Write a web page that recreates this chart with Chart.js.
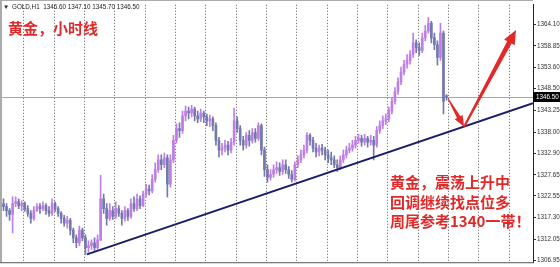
<!DOCTYPE html>
<html>
<head>
<meta charset="utf-8">
<script src="https://cdn.jsdelivr.net/npm/chart.js@4.4.1/dist/chart.umd.min.js"></script>
<style>
  html, body { margin: 0; padding: 0; background: #fff; }
  #wrap { width: 560px; height: 267px; }
</style>
</head>
<body>
<div id="wrap"><canvas id="gold-chart" width="560" height="267"></canvas></div>
<script>
// GOLD H1 candles
var opens = [
    1320.65, 1319.94, 1318.99, 1318.05, 1320.65, 1321.12, 1320.18, 1320.65, 1319.47, 1318.29,
    1317.10, 1318.99, 1319.94, 1319.47, 1320.18, 1318.99, 1318.29, 1320.65, 1319.47, 1318.29,
    1317.10, 1315.92, 1316.63, 1314.27, 1312.38, 1311.20, 1314.27, 1312.38, 1310.02, 1310.49,
    1311.20, 1310.02, 1311.91, 1321.83, 1319.47, 1317.10, 1318.99, 1317.58, 1319.47, 1318.29,
    1317.10, 1318.99, 1317.58, 1320.65, 1319.47, 1321.83, 1320.18, 1323.01, 1324.19, 1323.72,
    1326.55, 1328.91, 1331.27, 1330.09, 1331.75, 1325.37, 1331.27, 1336.00, 1338.83, 1338.36,
    1341.90, 1343.08, 1342.61, 1343.56, 1341.90, 1341.19, 1342.61, 1341.67, 1340.72, 1341.19,
    1339.54, 1336.00, 1333.64, 1334.11, 1334.82, 1333.64, 1335.53, 1340.72, 1338.83, 1336.00,
    1334.82, 1337.18, 1336.00, 1337.89, 1336.47, 1339.54, 1333.64, 1328.91, 1327.02, 1327.73,
    1328.91, 1329.39, 1328.44, 1330.09, 1328.91, 1327.73, 1326.55, 1330.09, 1331.27, 1332.46,
    1333.64, 1337.18, 1336.00, 1334.11, 1333.16, 1334.11, 1333.64, 1332.46, 1331.75, 1331.27,
    1330.09, 1329.39, 1331.27, 1332.46, 1333.64, 1334.11, 1334.82, 1336.00, 1336.47, 1335.53,
    1336.47, 1335.53, 1336.00, 1334.82, 1338.36, 1339.54, 1340.72, 1341.19, 1343.08, 1345.44,
    1347.81, 1350.17, 1352.53, 1354.42, 1355.36, 1356.78, 1359.61, 1358.43, 1357.72, 1360.79,
    1362.45, 1364.34, 1360.79, 1359.14, 1356.07, 1361.97, 1346.60
];
var highs = [
    1321.83, 1320.65, 1319.47, 1322.30, 1322.30, 1321.83, 1321.36, 1321.12, 1320.18, 1318.99,
    1319.94, 1320.65, 1320.65, 1321.12, 1320.65, 1319.94, 1321.83, 1321.12, 1319.94, 1318.76,
    1317.81, 1317.58, 1317.10, 1314.74, 1313.09, 1315.22, 1314.74, 1313.09, 1311.67, 1311.91,
    1312.38, 1313.09, 1327.50, 1323.01, 1320.65, 1320.65, 1319.94, 1321.12, 1320.18, 1318.99,
    1319.94, 1319.47, 1321.83, 1322.30, 1323.01, 1322.54, 1323.72, 1325.37, 1325.13, 1327.73,
    1330.57, 1332.46, 1332.46, 1332.93, 1332.46, 1332.46, 1337.18, 1340.01, 1340.25, 1343.08,
    1344.26, 1344.03, 1344.50, 1344.03, 1343.08, 1343.56, 1343.08, 1342.37, 1342.14, 1341.67,
    1340.25, 1336.71, 1335.29, 1336.00, 1335.76, 1336.47, 1343.79, 1341.67, 1339.54, 1336.94,
    1337.89, 1338.36, 1338.83, 1338.83, 1340.25, 1340.01, 1334.34, 1330.09, 1328.91, 1330.09,
    1330.80, 1330.57, 1331.27, 1331.27, 1329.62, 1328.68, 1330.80, 1332.22, 1333.64, 1334.82,
    1337.89, 1337.65, 1336.71, 1335.29, 1334.82, 1335.05, 1334.34, 1333.64, 1333.16, 1332.22,
    1331.27, 1332.22, 1333.64, 1334.58, 1335.29, 1336.00, 1336.94, 1337.42, 1337.18, 1337.42,
    1336.94, 1337.18, 1336.94, 1339.30, 1340.72, 1341.90, 1342.37, 1344.03, 1346.39, 1348.75,
    1351.11, 1353.71, 1355.36, 1356.78, 1357.72, 1361.97, 1360.32, 1359.61, 1361.97, 1363.86,
    1365.75, 1364.81, 1361.97, 1360.09, 1364.34, 1362.45, 1347.10
];
var lows = [
    1318.99, 1317.58, 1316.63, 1313.56, 1319.94, 1319.47, 1318.99, 1318.76, 1317.58, 1315.92,
    1316.63, 1318.76, 1318.29, 1318.99, 1318.05, 1317.58, 1317.81, 1318.76, 1317.58, 1315.92,
    1315.22, 1314.74, 1313.09, 1311.20, 1310.02, 1310.49, 1311.67, 1308.37, 1308.84, 1309.55,
    1309.31, 1309.55, 1311.67, 1318.29, 1315.45, 1316.63, 1316.87, 1317.10, 1317.58, 1315.45,
    1316.40, 1316.63, 1317.10, 1318.76, 1318.99, 1319.47, 1319.94, 1322.30, 1322.77, 1323.25,
    1325.84, 1328.20, 1328.91, 1329.39, 1322.30, 1324.66, 1330.57, 1335.29, 1336.71, 1337.65,
    1340.72, 1341.19, 1341.67, 1340.72, 1340.25, 1340.49, 1340.25, 1339.54, 1339.30, 1338.36,
    1334.82, 1331.98, 1332.46, 1333.16, 1332.46, 1332.93, 1334.82, 1337.89, 1334.82, 1333.64,
    1334.11, 1334.58, 1335.29, 1335.53, 1336.00, 1332.46, 1327.26, 1325.84, 1326.32, 1327.02,
    1327.97, 1327.50, 1327.73, 1327.97, 1326.79, 1325.84, 1326.08, 1329.39, 1330.57, 1331.75,
    1332.93, 1334.82, 1333.16, 1331.98, 1332.22, 1332.46, 1331.27, 1330.57, 1330.09, 1329.39,
    1328.44, 1328.91, 1330.57, 1331.75, 1332.93, 1333.40, 1334.11, 1335.29, 1334.58, 1334.82,
    1334.34, 1334.82, 1331.27, 1334.34, 1337.65, 1338.83, 1339.78, 1340.49, 1342.37, 1344.74,
    1347.10, 1349.46, 1351.82, 1353.47, 1354.42, 1356.07, 1357.25, 1356.54, 1357.25, 1360.09,
    1361.97, 1359.61, 1357.96, 1354.18, 1355.36, 1342.37, 1345.70
];
var closes = [
    1319.94, 1318.99, 1318.05, 1320.65, 1321.12, 1320.18, 1320.65, 1319.47, 1318.29, 1317.10,
    1318.99, 1319.94, 1319.47, 1320.18, 1318.99, 1318.29, 1320.65, 1319.47, 1318.29, 1317.10,
    1315.92, 1316.63, 1314.27, 1312.38, 1311.20, 1314.27, 1312.38, 1310.02, 1310.49, 1311.20,
    1310.02, 1311.91, 1321.83, 1319.47, 1317.10, 1318.99, 1317.58, 1319.47, 1318.29, 1317.10,
    1318.99, 1317.58, 1320.65, 1319.47, 1321.83, 1320.18, 1323.01, 1324.19, 1323.72, 1326.55,
    1328.91, 1331.27, 1330.09, 1331.75, 1325.37, 1331.27, 1336.00, 1338.83, 1338.36, 1341.90,
    1343.08, 1342.61, 1343.56, 1341.90, 1341.19, 1342.61, 1341.67, 1340.72, 1341.19, 1339.54,
    1336.00, 1333.64, 1334.11, 1334.82, 1333.64, 1335.53, 1340.72, 1338.83, 1336.00, 1334.82,
    1337.18, 1336.00, 1337.89, 1336.47, 1339.54, 1333.64, 1328.91, 1327.02, 1327.73, 1328.91,
    1329.39, 1328.44, 1330.09, 1328.91, 1327.73, 1326.55, 1330.09, 1331.27, 1332.46, 1333.64,
    1337.18, 1336.00, 1334.11, 1333.16, 1334.11, 1333.64, 1332.46, 1331.75, 1331.27, 1330.09,
    1329.39, 1331.27, 1332.46, 1333.64, 1334.11, 1334.82, 1336.00, 1336.47, 1335.53, 1336.47,
    1335.53, 1336.00, 1334.82, 1338.36, 1339.54, 1340.72, 1341.19, 1343.08, 1345.44, 1347.81,
    1350.17, 1352.53, 1354.42, 1355.36, 1356.78, 1359.61, 1358.43, 1357.72, 1360.79, 1362.45,
    1364.34, 1360.79, 1359.14, 1356.07, 1361.97, 1345.44, 1346.50
];

// price axis labels as printed on the right
var yTicks = [1364.10, 1358.85, 1353.60, 1348.50, 1343.25, 1338.00, 1332.90, 1327.65, 1322.55, 1317.30, 1312.05, 1306.95];
var yMin = 1306.48;
var yMax = 1368.82;
// bar slots on the time axis (chart is shifted, empty room on the right)
var xSlots = 175;
var gridX = [7, 17, 27, 37, 47, 57, 67, 77, 87, 97, 107, 117, 127, 137, 147, 157, 167];

// drawn objects, in [bar, price]
var trendLine = [[28, 1308.37], [175, 1344.97]];
var arrowDown = [[147.0, 1346.15], [152.3, 1339.30]];
var arrowUp = [[152.3, 1339.30], [169.4, 1362.70]];

var titleText = "黄金，小时线";
var noteLines = ["黄金，震荡上升中", "回调继续找点位多", "周尾参考1340一带！"];

var BULL = "#bf7ee6";
var BEAR = "#7479ad";
var RED = "#e02a2a";
var SMALL_FONT = "6.3px 'Liberation Sans'";

var wickData = [];
var bodyData = [];
var barColors = [];
for (var i = 0; i < closes.length; i++) {
    wickData.push({x: i + 0.5, y: [lows[i], highs[i]]});
    bodyData.push({x: i + 0.5, y: [opens[i], closes[i]]});
    barColors.push(closes[i] >= opens[i] ? BULL : BEAR);
}
var last = closes.length - 1;
var lastPrice = closes[last];

function drawArrow(ctx, x0, y0, x1, y1, w0, w1, headLen, headW) {
    var dx = x1 - x0, dy = y1 - y0;
    var len = Math.sqrt(dx * dx + dy * dy);
    var ux = dx / len, uy = dy / len;
    var nx = -uy, ny = ux;
    var bx = x1 - ux * headLen, by = y1 - uy * headLen;
    ctx.beginPath();
    ctx.moveTo(x0 + nx * w0 / 2, y0 + ny * w0 / 2);
    ctx.lineTo(bx + nx * w1 / 2, by + ny * w1 / 2);
    ctx.lineTo(bx + nx * headW / 2, by + ny * headW / 2);
    ctx.lineTo(x1, y1);
    ctx.lineTo(bx - nx * headW / 2, by - ny * headW / 2);
    ctx.lineTo(bx - nx * w1 / 2, by - ny * w1 / 2);
    ctx.lineTo(x0 - nx * w0 / 2, y0 - ny * w0 / 2);
    ctx.closePath();
    ctx.fill();
}

var overlay = {
    id: "overlay",
    beforeDraw: function (chart) {
        var ctx = chart.ctx;
        ctx.save();
        ctx.fillStyle = "#fff";
        ctx.fillRect(0, 0, chart.width, chart.height);
        ctx.restore();
    },
    beforeDatasetsDraw: function (chart) {
        var ctx = chart.ctx, a = chart.chartArea;
        var xs = chart.scales.x, ys = chart.scales.y;
        ctx.save();
        // dotted vertical grid
        ctx.strokeStyle = "#5a5a5a";
        ctx.lineWidth = 1;
        ctx.setLineDash([1, 2]);
        for (var k = 0; k < gridX.length; k++) {
            var gx = Math.round(xs.getPixelForValue(gridX[k])) + 0.5;
            ctx.beginPath();
            ctx.moveTo(gx, a.top);
            ctx.lineTo(gx, a.bottom);
            ctx.stroke();
        }
        ctx.setLineDash([]);
        // bid line
        var py = Math.round(ys.getPixelForValue(lastPrice)) + 0.5;
        ctx.strokeStyle = "#a6a6a6";
        ctx.beginPath();
        ctx.moveTo(a.left, py);
        ctx.lineTo(a.right, py);
        ctx.stroke();
        ctx.restore();
    },
    afterDraw: function (chart) {
        var ctx = chart.ctx, a = chart.chartArea;
        var xs = chart.scales.x, ys = chart.scales.y;
        function px(p) { return [xs.getPixelForValue(p[0]), ys.getPixelForValue(p[1])]; }
        ctx.save();

        // frame
        ctx.fillStyle = "#ababab";
        ctx.fillRect(0, 0, 2, a.bottom);
        ctx.fillRect(0, 0, a.right, 1);
        ctx.fillStyle = "#555";
        ctx.fillRect(0, a.bottom, a.right + 1, 1);

        // trend line
        var t0 = px(trendLine[0]), t1 = px(trendLine[1]);
        ctx.beginPath();
        ctx.rect(a.left, a.top, a.right - a.left, a.bottom - a.top);
        ctx.clip();
        ctx.strokeStyle = "#1c1c6b";
        ctx.lineWidth = 2;
        ctx.beginPath();
        ctx.moveTo(t0[0], t0[1]);
        ctx.lineTo(t1[0], t1[1]);
        ctx.stroke();

        // arrows
        ctx.fillStyle = RED;
        var d0 = px(arrowDown[0]), d1 = px(arrowDown[1]);
        drawArrow(ctx, d0[0], d0[1], d1[0], d1[1], 1, 4, 11, 9);
        var u0 = px(arrowUp[0]), u1 = px(arrowUp[1]);
        drawArrow(ctx, u0[0], u0[1], u1[0], u1[1], 2, 5, 14, 12);
        ctx.restore();

        ctx.save();
        // current price tag
        var py = Math.round(ys.getPixelForValue(lastPrice));
        ctx.fillStyle = "#000";
        ctx.fillRect(a.right, py - 5, chart.width - a.right, 10);
        ctx.fillStyle = "#fff";
        ctx.font = SMALL_FONT;
        ctx.textBaseline = "middle";
        ctx.textAlign = "left";
        ctx.fillText(lastPrice.toFixed(2), a.right + 3, py + 0.5);

        // header line
        ctx.fillStyle = "#222";
        ctx.textBaseline = "alphabetic";
        ctx.fillText("\u25BC", 3, 9);
        var ohlc = [opens[last], highs[last], lows[last], closes[last]].map(function (v) { return v.toFixed(2); });
        ctx.fillText("GOLD,H1  " + ohlc.join(" "), 12, 9);

        // red notes
        ctx.fillStyle = RED;
        ctx.font = "bold 15px 'Noto Sans CJK SC'";
        ctx.fillText(titleText, 8, 34);
        var baseY = [188, 208, 227];
        for (var k = 0; k < noteLines.length; k++) {
            ctx.fillText(noteLines[k], 390, baseY[k]);
        }
        ctx.restore();
    }
};

var config = {
    type: "bar",
    data: {
        datasets: [{
                label: "wick",
                data: wickData,
                backgroundColor: barColors,
                barThickness: 1,
                grouped: false,
                order: 2
            }, {
                label: "body",
                data: bodyData,
                backgroundColor: barColors,
                barThickness: 2,
                minBarLength: 1,
                grouped: false,
                order: 1
            }]
    },
    options: {
        responsive: false,
        animation: false,
        devicePixelRatio: 1,
        layout: {padding: {left: 2, top: 1, right: 0, bottom: 0}},
        plugins: {legend: {display: false}, tooltip: {enabled: false}},
        scales: {
            x: {
                type: "linear",
                min: 0,
                max: xSlots,
                offset: false,
                bounds: "data",
                ticks: {display: false},
                grid: {display: false},
                border: {display: false},
                afterFit: function (s) { s.height = 2; }
            },
            y: {
                position: "right",
                min: yMin,
                max: yMax,
                bounds: "data",
                beginAtZero: false,
                afterBuildTicks: function (s) {
                    s.ticks = yTicks.map(function (v) { return {value: v}; });
                },
                ticks: {
                    autoSkip: false,
                    padding: 1,
                    color: "#333",
                    font: {family: "'Liberation Sans'", size: 6.3},
                    callback: function (v) { return Number(v).toFixed(2); }
                },
                grid: {drawOnChartArea: false, tickLength: 3, tickColor: "#333"},
                border: {display: true, color: "#222"},
                afterFit: function (s) { s.width = 27; }
            }
        }
    },
    plugins: [overlay]
};

var myChart = new Chart(document.getElementById("gold-chart").getContext("2d"), config);
</script>
</body>
</html>
